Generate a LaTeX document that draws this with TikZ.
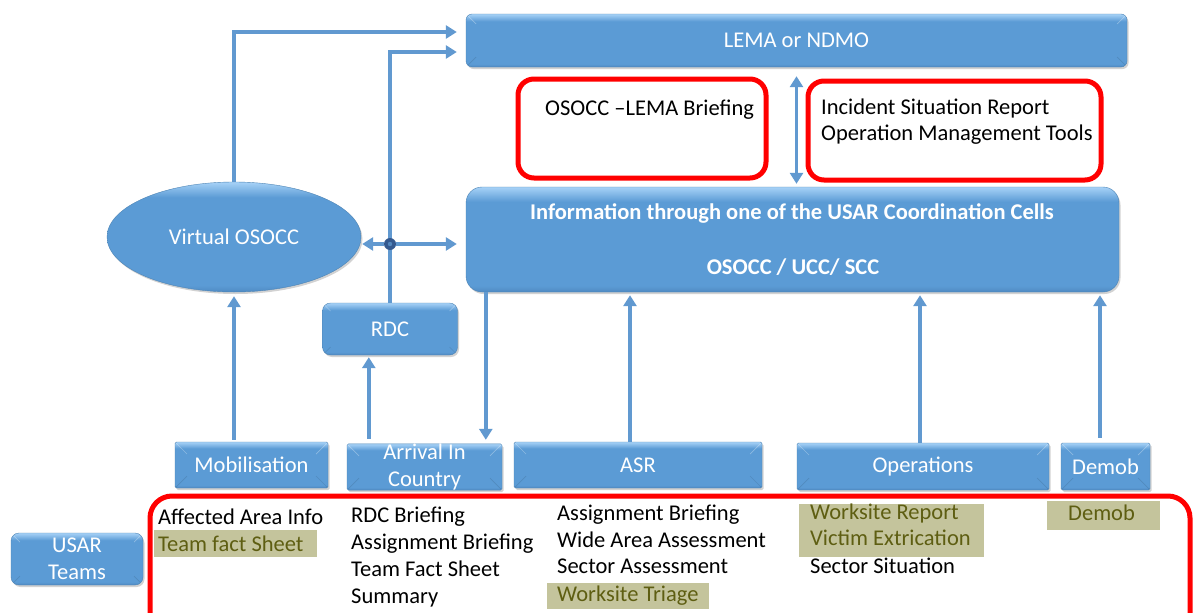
\documentclass[tikz,border=0pt]{standalone}
\usepackage{fontspec}
\setmainfont{Carlito}
\usetikzlibrary{arrows.meta,shadows,shapes.geometric,calc}

\definecolor{boxblue}{HTML}{5B9BD5}
\definecolor{boxlight}{HTML}{A7D2F7}
\definecolor{boxdark}{HTML}{4F8AC2}
\definecolor{arrowblue}{HTML}{6199D0}
\definecolor{hilite}{HTML}{C4C49C}
\definecolor{olivetext}{HTML}{5E5E12}
\definecolor{dotblue}{HTML}{34598F}
\definecolor{alertred}{HTML}{FF0000}

% soft bevel: light rim on top, slightly darker rim at the bottom
\pgfdeclareverticalshading{bevelshade}{100bp}{%
  color(0bp)=(boxdark); color(25bp)=(boxdark); color(28bp)=(boxblue);
  color(68bp)=(boxblue); color(75bp)=(boxlight); color(100bp)=(boxlight)}

\tikzset{
  txt/.style={font=\fontsize{22.5}{27}\selectfont},
  blueblock/.style={txt, shading=bevelshade, draw=boxblue!85!black, line width=0.4pt,
    text=white, inner sep=0pt,
    drop shadow={opacity=0.35, shadow xshift=1.5pt, shadow yshift=-2pt}},
  bevel/.style={path picture={
    \draw[white, opacity=0.3, line width=0.7pt]
      (path picture bounding box.north west) -- ([shift={(#1,-#1)}]path picture bounding box.north west)
      (path picture bounding box.north east) -- ([shift={(-#1,-#1)}]path picture bounding box.north east);
    \draw[black, opacity=0.1, line width=0.7pt]
      (path picture bounding box.south west) -- ([shift={(#1,#1)}]path picture bounding box.south west)
      (path picture bounding box.south east) -- ([shift={(-#1,#1)}]path picture bounding box.south east);}},
  stepbox/.style={blueblock, bevel=12pt, rounded corners=1.5pt, minimum height=46pt},
  arr/.style={draw=arrowblue, line width=3.6pt, -{Triangle[length=11pt,width=13pt]}},
  dblarr/.style={draw=arrowblue, line width=3.6pt, {Triangle[length=11pt,width=13pt]}-{Triangle[length=11pt,width=13pt]}},
  redbox/.style={draw=alertred, line width=5pt, rounded corners=16pt},
  item/.style={txt, anchor=base west, inner sep=0pt},
  hl/.style={item, text=olivetext},
  boldtxt/.style={font=\bfseries\fontsize{22.5}{27}\selectfont, text=white, inner sep=0pt}
}

\begin{document}
\begin{tikzpicture}[x=1pt,y=-1pt]
\fill[white] (0,0) rectangle (1194,613);
\clip (0,0) rectangle (1194,613);

% coordination level
\node[blueblock, bevel=10pt, rounded corners=6pt, minimum width=661pt, minimum height=53pt] (lema) at (796.5,40.5) {LEMA or NDMO};
\node[blueblock, rounded corners=16pt, minimum width=653pt, minimum height=105pt] (info) at (792.5,239.5) {};
\node[boldtxt] (infoA) at (792,213) {Information through one of the USAR Coordination Cells};
\node[boldtxt] (infoB) at (793,267) {OSOCC / UCC/ SCC};

\node[blueblock, ellipse, minimum width=254pt, minimum height=110pt] (vos) at (234,237) {Virtual OSOCC};
\node[blueblock, bevel=8pt, rounded corners=8pt, minimum width=135pt, minimum height=52pt] (rdc) at (390,329) {RDC};

% reporting boxes
\draw[redbox] (518,79) rectangle (766,178);
\node[item] (brief) at (545,115) {OSOCC –LEMA Briefing};
\draw[redbox] (808,81) rectangle (1101,180);
\node[item] (sitrep) at (821,114) {Incident Situation Report};
\node[item] (omt) at (821,140) {Operation Management Tools};

% phases
\node[stepbox, minimum width=153pt] (mob) at (251.5,465) {Mobilisation};
\node[stepbox, minimum width=155pt, align=center, font=\fontsize{22.5}{27}\selectfont] (arrival) at (424.5,467) {Arrival In\\Country};
\node[stepbox, minimum width=248pt] (asr) at (638,465) {ASR};
\node[stepbox, minimum width=252pt, minimum height=47pt] (ops) at (923,466.5) {Operations};
\node[stepbox, minimum width=89pt, minimum height=47pt] (demob) at (1105.5,466.5) {Demob};
\node[blueblock, bevel=9pt, rounded corners=8pt, minimum width=132pt, minimum height=52pt, align=center, font=\fontsize{22.5}{27}\selectfont] (usar) at (77,559) {USAR\\Teams};

% connectors
\draw[arr, shorten >=9pt] (vos.north) |- ([yshift=8.5pt]lema.west);
\draw[arr, shorten >=9pt] (rdc.north) |- ([yshift=-11.5pt]lema.west);
\node[circle, fill=dotblue, minimum size=12pt, inner sep=0pt] (jn) at (390,244) {};
\draw[arr, shorten >=1pt] (jn) -- (jn -| vos.east);
\draw[arr, shorten >=9pt] (jn) -- (jn -| info.west);
\fill[arrowblue!70!dotblue] (jn) circle (2.2pt);
\draw[dblarr, shorten <=9pt, shorten >=3pt] (lema.south) -- (lema.south |- info.north);
\draw[arr, shorten >=2pt] ([xshift=20pt]info.south west) -- ([xshift=20pt]info.south west |- mob.north);
\draw[arr, shorten >=2pt, shorten <=3pt] ([xshift=22pt]mob.north -| arrival.west) -- ([xshift=22pt]arrival.west |- rdc.south);
\draw[arr, shorten >=4pt, shorten <=2pt] (mob.north -| vos.south) -- (vos.south);
\draw[arr, shorten >=3pt] ([xshift=-8pt]asr.north) -- ([xshift=-8pt]asr.north |- info.south);
\draw[arr, shorten >=3pt] ([xshift=-3pt]ops.north) -- ([xshift=-3pt]ops.north |- info.south);
\draw[arr, shorten >=3pt, shorten <=5pt] ([xshift=-5.5pt]demob.north) -- ([xshift=-5.5pt]demob.north |- info.south);

% team products
\fill[hilite] (154,530) rectangle (317,557);
\fill[hilite] (547,583) rectangle (709,609);
\fill[hilite] (799,504) rectangle (984,557);
\fill[hilite] (1047,501) rectangle (1160,530);
\draw[redbox, rounded corners=22pt] (150,496) rectangle (1190,660);

\node[item] (c1a) at (158,524) {Affected Area Info};
\node[hl]   (c1b) at (158,551) {Team fact Sheet};

\node[item] (c2a) at (351,522) {RDC Briefing};
\node[item] (c2b) at (351,549) {Assignment Briefing};
\node[item] (c2c) at (351,576) {Team Fact Sheet};
\node[item] (c2d) at (351,603) {Summary};

\node[item] (c3a) at (557,520) {Assignment Briefing};
\node[item] (c3b) at (557,547) {Wide Area Assessment};
\node[item] (c3c) at (557,573) {Sector Assessment};
\node[hl]   (c3d) at (557,601) {Worksite Triage};

\node[hl]   (c4a) at (810,519) {Worksite Report};
\node[hl]   (c4b) at (810,545) {Victim Extrication};
\node[item] (c4c) at (810,573) {Sector Situation};

\node[hl]   (c5a) at (1068,520) {Demob};
\end{tikzpicture}
\end{document}
